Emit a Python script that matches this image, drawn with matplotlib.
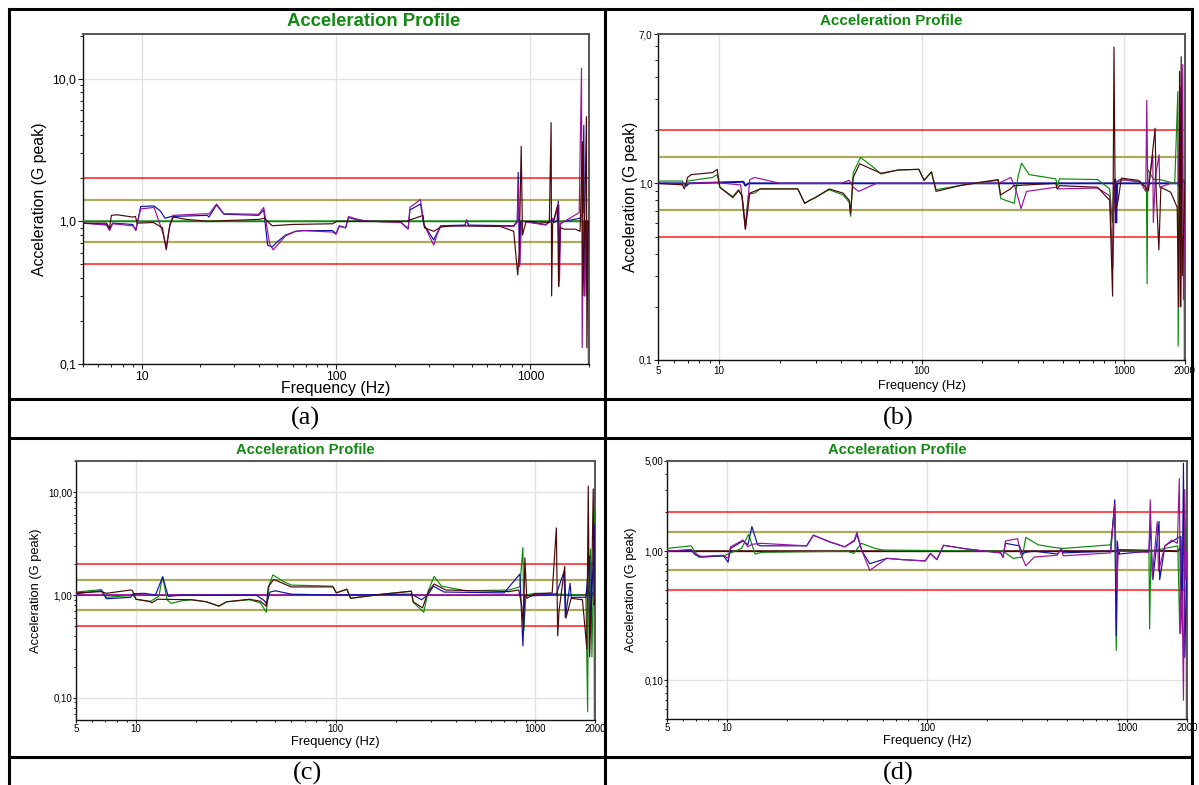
import matplotlib
matplotlib.use('Agg')
import numpy as np
import matplotlib.pyplot as plt
from matplotlib import font_manager
from matplotlib.ticker import LogLocator, NullFormatter

W, H = 1199, 785

# ---------------- data (frequency Hz, acceleration G peak) ----------------
FREQ_RANGE = (5, 2000)
LIMIT_RED = [2.0, 0.5]
LIMIT_OLIVE = [1.41, 0.71]

TITLE = "Acceleration Profile"
XLABEL = "Frequency (Hz)"
YLABEL = "Acceleration (G peak)"
CAPTIONS = ["(a)", "(b)", "(c)", "(d)"]

XT_A = [10, 100, 1000]
XTL_A = ["10", "100", "1000"]
XT_BCD = [5, 10, 100, 1000, 2000]
XTL_BCD = ["5", "10", "100", "1000", "2000"]

YLIM_A = (0.1, 20.5)
YT_A = [0.1, 1, 10]
YTL_A = ["0,1", "1,0", "10,0"]
YLIM_B = (0.1, 7.0)
YT_B = [0.1, 1, 7]
YTL_B = ["0,1", "1,0", "7,0"]
YLIM_C = (0.0607, 20.2)
YT_C = [0.1, 1, 10]
YTL_C = ["0,10", "1,00", "10,00"]
YLIM_D = (0.05, 5.0)
YT_D = [0.1, 1, 5]
YTL_D = ["0,10", "1,00", "5,00"]

# panel (a)
GREEN_A = [(5, 1.0), (860, 1.0), (870, 1.03), (880, 1.0), (1850, 1.0), (2000, 1.0)]
BLUE_A = [(5, 0.97), (6.6, 0.95), (6.85, 0.88), (7.1, 0.97), (9.0, 0.95), (9.35, 0.86), (9.9, 1.27),
          (11.6, 1.28), (12.5, 1.18), (13.2, 1.05), (14.2, 1.08), (21.8, 1.1), (22.2, 1.07), (24.3, 1.3),
          (26.5, 1.12), (40, 1.1), (42.5, 1.2), (44.5, 0.68), (47, 0.66), (50, 0.72), (55, 0.8), (62, 0.85),
          (68, 0.86), (96, 0.86), (100, 0.82), (104, 0.93), (112, 0.9), (116, 1.06), (130, 1.02), (145, 1.0),
          (215, 0.99), (235, 0.88), (240, 1.2), (272, 1.32), (283, 0.95), (318, 0.74), (345, 0.93),
          (460, 0.94), (470, 1.02), (480, 0.94), (820, 0.93), (855, 1.0), (865, 2.2), (880, 0.5),
          (890, 1.0), (930, 1.0), (1200, 0.95), (1300, 1.02), (1315, 0.98), (1370, 1.0), (1390, 1.38),
          (1400, 0.35), (1420, 0.96), (1500, 1.0), (1800, 1.05), (1860, 1.15), (1880, 4.7), (1900, 0.3),
          (1920, 1.0), (1950, 0.3), (1980, 1.0), (2000, 1.0)]
PURPLE_A = [(5, 0.97), (6.6, 0.94), (6.85, 0.86), (7.1, 0.96), (9.0, 0.93), (9.35, 0.88), (9.9, 1.22),
            (11.6, 1.25), (12.8, 0.85), (13.4, 0.66), (13.9, 0.9), (14.5, 1.1), (21.8, 1.13), (22.2, 1.12),
            (24.3, 1.32), (26.5, 1.13), (40, 1.12), (42.5, 1.25), (45.5, 0.7), (47.5, 0.63), (50, 0.68),
            (55, 0.79), (62, 0.85), (68, 0.86), (96, 0.84), (100, 0.81), (104, 0.92), (112, 0.9), (116, 1.08),
            (130, 1.03), (145, 1.0), (215, 0.98), (235, 0.89), (240, 1.25), (272, 1.42), (283, 0.95),
            (318, 0.68), (330, 0.8), (345, 0.92), (460, 0.93), (470, 1.02), (480, 0.93), (820, 0.92),
            (855, 0.98), (868, 1.8), (880, 0.48), (900, 1.0), (1200, 0.94), (1300, 1.05), (1315, 1.0),
            (1400, 1.3), (1410, 0.38), (1430, 0.97), (1500, 1.0), (1780, 1.15), (1830, 11.8), (1845, 0.13),
            (1870, 1.0), (1900, 0.3), (1950, 1.0), (2000, 1.0)]
MAROON_A = [(5, 0.97), (6.6, 0.97), (6.85, 0.9), (7.0, 1.1), (7.5, 1.11), (9.0, 1.07), (9.3, 1.08),
            (9.5, 0.97), (11.5, 0.98), (12.8, 0.9), (13.4, 0.63), (14.0, 0.95), (14.6, 1.07), (17, 1.03),
            (22, 1.0), (40, 1.03), (43, 1.05), (45, 0.98), (47, 0.93), (60, 0.95), (96, 0.96), (101, 1.0),
            (230, 1.0), (270, 1.08), (280, 1.1), (285, 0.9), (318, 0.85), (345, 0.91), (400, 0.93),
            (700, 0.92), (820, 0.85), (860, 0.42), (875, 0.6), (896, 3.35), (910, 0.8), (950, 1.0),
            (1250, 0.98), (1277, 4.9), (1285, 0.3), (1300, 0.95), (1380, 1.3), (1395, 0.35), (1420, 0.9),
            (1500, 0.88), (1700, 0.88), (1800, 0.85), (1850, 3.6), (1860, 0.3), (1900, 1.0), (1940, 5.4),
            (1950, 0.13), (1980, 1.0), (2000, 0.9)]

# panel (b)
GREEN_B = [(5, 1.03), (6.6, 1.03), (6.8, 0.97), (7.0, 1.03), (9.3, 1.08), (9.8, 1.12), (10.1, 0.95),
           (11.7, 0.84), (12.5, 0.92), (13.0, 0.85), (13.5, 0.58), (14.0, 0.87), (15, 0.88), (16, 0.93),
           (24.5, 0.93), (26.5, 0.77), (28, 0.8), (35, 0.92), (41, 0.86), (44, 0.78), (44.7, 0.65),
           (46, 1.15), (50, 1.4), (57, 1.25), (63, 1.13), (77, 1.19), (97, 1.2), (103, 1.04), (112, 1.16),
           (118, 0.92), (154, 0.97), (192, 1.01), (239, 1.04), (246, 0.82), (287, 0.77), (300, 1.1),
           (312, 1.3), (340, 1.12), (460, 1.06), (470, 0.97), (480, 1.06), (740, 1.05), (850, 0.93),
           (875, 0.6), (890, 1.0), (1000, 1.05), (1200, 1.02), (1290, 0.95), (1300, 0.27), (1310, 1.2),
           (1400, 1.05), (1500, 1.05), (1780, 1.0), (1843, 3.3), (1850, 0.12), (1880, 1.0), (2000, 1.05)]
PURPLE_B = [(5, 1.0), (6.7, 0.99), (7.0, 1.0), (9.5, 1.01), (10.5, 1.0), (12.8, 0.98), (13.5, 0.55),
            (14.2, 1.05), (15, 1.08), (20, 1.0), (40, 1.0), (44, 1.04), (46, 0.95), (49, 0.9), (60, 1.0),
            (240, 1.0), (276, 1.08), (290, 0.95), (310, 0.72), (330, 0.9), (460, 0.95), (470, 0.93),
            (740, 0.94), (850, 0.85), (880, 0.33), (900, 1.0), (950, 1.05), (1200, 1.02), (1280, 0.9),
            (1295, 2.95), (1310, 0.9), (1387, 1.45), (1395, 0.6), (1430, 1.1), (1490, 1.45), (1500, 0.95),
            (1700, 1.0), (1860, 1.0), (1890, 3.5), (1910, 0.2), (1950, 4.7), (1965, 0.22), (2000, 1.0)]
BLUE_B = [(5, 1.0), (6.7, 1.0), (6.9, 0.97), (7.1, 1.0), (13.2, 1.02), (13.5, 0.97), (14, 1.0),
          (900, 1.0), (905, 1.05), (915, 0.6), (925, 1.0), (1850, 1.0), (1880, 0.95), (1950, 1.05),
          (2000, 1.0)]
MAROON_B = [(5, 1.0), (6.6, 0.98), (6.75, 0.93), (7.0, 1.08), (7.3, 1.12), (9.3, 1.15), (9.8, 1.2),
            (10.1, 0.95), (11.7, 0.83), (12.5, 0.91), (13.0, 0.85), (13.5, 0.55), (14.2, 0.88), (16, 0.93),
            (24.5, 0.93), (26.5, 0.77), (28, 0.8), (30, 0.83), (35, 0.93), (41, 0.88), (44, 0.8),
            (44.6, 0.67), (46, 1.08), (49.5, 1.29), (63, 1.14), (77, 1.19), (97, 1.2), (103, 1.04),
            (112, 1.16), (118, 0.9), (154, 0.97), (192, 1.01), (239, 1.05), (246, 0.86), (275, 0.93),
            (285, 0.97), (460, 1.0), (468, 0.93), (480, 0.97), (740, 0.95), (850, 0.8), (878, 0.23),
            (892, 5.9), (905, 0.7), (935, 0.8), (970, 1.07), (1180, 1.04), (1320, 0.91), (1424, 2.05),
            (1440, 0.93), (1486, 0.42), (1520, 0.95), (1700, 0.89), (1830, 0.73), (1860, 0.2),
            (1880, 4.3), (1900, 0.2), (1915, 5.2), (1940, 0.3), (2000, 1.0)]

# panel (c)
GREEN_C = [(5, 1.07), (6.7, 1.13), (7.1, 0.95), (9.4, 0.99), (9.6, 1.02), (10, 0.91), (11.7, 0.86),
           (13, 0.97), (13.6, 1.52), (14.3, 0.9), (15, 0.83), (17, 0.88), (19, 0.9), (22.5, 0.86),
           (26, 0.78), (28.5, 0.86), (37, 0.9), (42, 0.84), (45, 0.68), (46.5, 1.25), (48.5, 1.57),
           (55, 1.35), (60, 1.25), (97, 1.22), (101, 1.05), (114, 1.14), (119, 0.93), (172, 1.02),
           (240, 1.09), (245, 0.85), (277, 0.68), (292, 1.1), (312, 1.52), (340, 1.22), (450, 1.1),
           (740, 1.12), (840, 1.2), (870, 2.9), (880, 0.45), (900, 1.0), (1000, 1.04), (1800, 1.0),
           (1837, 0.073), (1850, 1.0), (1900, 2.8), (1930, 0.25), (1990, 6.7), (2000, 1.0)]
BLUE_C = [(5, 1.03), (6.7, 1.1), (7.1, 0.92), (9.4, 0.95), (9.7, 1.03), (11, 1.04), (12.5, 1.0),
          (13.6, 1.5), (14.5, 0.97), (17, 1.0), (40, 1.0), (44, 0.88), (45, 0.82), (47, 1.07), (50, 1.1),
          (60, 1.02), (100, 1.0), (240, 1.02), (270, 0.9), (290, 1.0), (310, 1.22), (350, 1.07),
          (700, 1.05), (840, 1.6), (870, 0.32), (890, 1.0), (950, 0.98), (1280, 1.02), (1400, 1.7),
          (1420, 0.6), (1500, 1.3), (1520, 0.95), (1800, 0.95), (1880, 2.4), (1900, 0.5), (1990, 4.8),
          (2000, 1.0)]
PURPLE_C = [(5, 1.0), (1800, 1.0), (1850, 1.1), (1900, 0.95), (1950, 1.05), (2000, 1.0)]
MAROON_C = [(5, 1.05), (6.7, 1.08), (7.1, 1.04), (9.4, 1.12), (9.6, 1.1), (10, 0.91), (11.7, 0.87),
            (12, 0.84), (12.8, 0.91), (19, 0.9), (22.5, 0.86), (26, 0.78), (28.5, 0.86), (37, 0.91),
            (42, 0.87), (45, 0.78), (46, 1.2), (49, 1.42), (60, 1.2), (97, 1.2), (101, 1.05), (114, 1.14),
            (119, 0.93), (172, 1.02), (240, 1.09), (245, 0.86), (273, 0.75), (292, 1.08), (312, 1.28),
            (357, 1.12), (740, 1.08), (830, 1.12), (860, 0.77), (875, 0.47), (890, 2.3), (910, 0.93),
            (1000, 1.03), (1220, 1.05), (1280, 4.5), (1300, 0.4), (1320, 0.7), (1410, 1.9), (1430, 0.6),
            (1520, 0.93), (1730, 0.9), (1820, 0.3), (1850, 11.5), (1880, 0.25), (1920, 1.0), (1960, 10.8),
            (1980, 0.8), (2000, 0.9)]

# panel (d)
GREEN_D = [(5, 1.05), (6.6, 1.1), (7.2, 0.9), (9.6, 0.92), (10.1, 0.95), (11.8, 1.05), (12.8, 1.35),
           (13.8, 0.95), (15, 0.98), (40, 1.0), (43, 0.96), (47, 1.15), (55, 1.05), (60, 1.02), (240, 1.0),
           (270, 0.88), (300, 0.9), (312, 1.28), (360, 1.12), (430, 1.07), (480, 1.05), (830, 1.12),
           (870, 2.2), (885, 0.17), (900, 1.0), (1290, 1.0), (1300, 0.25), (1320, 1.0), (1800, 1.1),
           (1840, 0.23), (1870, 1.3), (1900, 0.5), (1930, 3.0), (1960, 0.6), (2000, 1.5)]
BLUE_D = [(5, 1.0), (6.6, 1.02), (6.9, 0.94), (7.4, 0.9), (9.6, 0.92), (10.1, 0.82), (10.4, 1.05),
          (12.0, 1.2), (12.7, 1.12), (13.3, 1.55), (14.2, 1.12), (14.8, 1.1), (25, 1.1), (27, 1.33),
          (32.6, 1.18), (38.8, 1.08), (43.3, 1.2), (44.6, 1.35), (47.3, 1.0), (51.7, 0.8), (63, 0.88),
          (75, 0.86), (98, 0.84), (104, 0.96), (112, 0.86), (121, 1.11), (158, 1.04), (234, 0.97),
          (240, 0.9), (247, 1.15), (290, 1.1), (300, 0.95), (312, 0.98), (344, 1.0), (450, 0.95),
          (470, 1.05), (480, 0.97), (830, 1.0), (870, 2.5), (885, 0.22), (895, 1.2), (910, 0.95),
          (1290, 1.0), (1310, 1.6), (1350, 0.6), (1450, 1.7), (1460, 0.6), (1550, 1.1), (1700, 1.2),
          (1850, 1.3), (1890, 0.33), (1920, 4.8), (1950, 0.15), (2000, 1.0)]
PURPLE_D = [(5, 1.0), (6.6, 1.03), (6.9, 0.96), (7.4, 0.91), (9.6, 0.93), (10.1, 0.88), (10.4, 1.08),
            (12.0, 1.22), (12.7, 1.08), (13.3, 1.13), (14.8, 1.15), (25, 1.1), (27, 1.33), (32.6, 1.18),
            (38.8, 1.08), (43.3, 1.22), (44.6, 1.4), (47.3, 1.0), (51.7, 0.71), (63, 0.88), (75, 0.86),
            (98, 0.84), (104, 0.96), (112, 0.86), (121, 1.11), (158, 1.04), (234, 0.97), (240, 0.89),
            (247, 1.2), (284, 1.25), (294, 0.96), (312, 0.77), (344, 0.9), (448, 0.93), (470, 1.05),
            (480, 0.92), (830, 0.97), (870, 2.34), (890, 0.5), (905, 1.0), (1290, 0.98), (1310, 2.5),
            (1340, 0.63), (1420, 1.69), (1440, 0.7), (1550, 1.1), (1680, 1.22), (1790, 1.15), (1830, 3.65),
            (1860, 0.23), (1890, 0.5), (1920, 0.07), (1950, 3.0), (1980, 0.6), (2000, 1.0)]
MAROON_D = [(5, 1.0), (900, 1.0), (910, 0.95), (920, 1.02), (1800, 1.0), (1850, 1.05), (1900, 0.95),
            (2000, 1.0)]

OLIVE_END = [(1950, 1.0), (1975, 0.8), (1995, 0.01)]

# ---------------- styling ----------------
C_GREEN, C_BLUE, C_PURPLE, C_MAROON = '#0b8a0b', '#1010a8', '#9a149a', '#4a0808'
C_RED, C_OLIVE, C_TITLE = '#ff1a1a', '#aaaa5a', '#118a11'

fams = {f.name for f in font_manager.fontManager.ttflist}
SANS = 'Liberation Sans' if 'Liberation Sans' in fams else 'DejaVu Sans'
SERIF = 'Liberation Serif' if 'Liberation Serif' in fams else 'DejaVu Serif'
HAS_NARROW = 'Liberation Sans Narrow' in fams
NARROW = 'Liberation Sans Narrow' if HAS_NARROW else SANS
NK = 1.0 if HAS_NARROW else 0.82

plt.rcParams['font.family'] = [SANS, 'DejaVu Sans']

fig = plt.figure(figsize=(W / 100, H / 100), dpi=100)


def px_axes(l, t, r, b):
    return fig.add_axes([l / W, 1 - b / H, (r - l) / W, (b - t) / H])


# the last-listed control trace of each panel (flat near 1.0) is drawn a little heavier
panels = [
    dict(box=(83, 34, 589, 364), ylim=YLIM_A, yt=YT_A, ytl=YTL_A, xt=XT_A, xtl=XTL_A,
         traces=[(BLUE_A, C_BLUE), (PURPLE_A, C_PURPLE), (MAROON_A, C_MAROON)],
         control=(GREEN_A, C_GREEN),
         fam=SANS, tfs=13.3, lfs=11.4, ylfs=11.4, kfs=8.7, klen=3.5, kpad=1.5,
         title_xy=(374, 21), xlab_y=389, ylab_x=40, cap_xy=(305, 418)),
    dict(box=(658, 34, 1185, 360), ylim=YLIM_B, yt=YT_B, ytl=YTL_B, xt=XT_BCD, xtl=XTL_BCD,
         traces=[(GREEN_B, C_GREEN), (PURPLE_B, C_PURPLE), (MAROON_B, C_MAROON)],
         control=(BLUE_B, C_BLUE),
         fam=NARROW, tfs=13.3 * NK, lfs=11.2 * NK, ylfs=11.2, kfs=8.7 * NK, klen=3.0, kpad=1.0,
         title_xy=(891, 21), xlab_y=386, ylab_x=630, cap_xy=(898, 418)),
    dict(box=(76, 461, 595, 720), ylim=YLIM_C, yt=YT_C, ytl=YTL_C, xt=XT_BCD, xtl=XTL_BCD,
         traces=[(GREEN_C, C_GREEN), (BLUE_C, C_BLUE), (MAROON_C, C_MAROON)],
         control=(PURPLE_C, C_PURPLE),
         fam=SANS, tfs=10.6, lfs=9.3, ylfs=9.3, kfs=7.0, klen=2.5, kpad=0.3,
         title_xy=(305, 450), xlab_y=742, ylab_x=36, cap_xy=(307, 773)),
    dict(box=(667, 461, 1187, 719), ylim=YLIM_D, yt=YT_D, ytl=YTL_D, xt=XT_BCD, xtl=XTL_BCD,
         traces=[(GREEN_D, C_GREEN), (BLUE_D, C_BLUE), (PURPLE_D, C_PURPLE)],
         control=(MAROON_D, C_MAROON),
         fam=SANS, tfs=10.6, lfs=9.3, ylfs=9.3, kfs=7.0, klen=2.5, kpad=0.3,
         title_xy=(897, 450), xlab_y=741, ylab_x=631, cap_xy=(898, 773)),
]

for p in panels:
    l, t, r, b = p['box']
    ax = px_axes(l, t, r, b)
    ax.set_xscale('log')
    ax.set_yscale('log')
    ax.set_xlim(*FREQ_RANGE)
    ax.set_ylim(*p['ylim'])

    for v in LIMIT_RED:
        ax.hlines(v, *FREQ_RANGE, colors=C_RED, lw=1.1, zorder=2)
    for v in LIMIT_OLIVE:
        ax.hlines(v, *FREQ_RANGE, colors=C_OLIVE, lw=1.6, zorder=2)
    of, ov = zip(*OLIVE_END)
    ax.plot(of, ov, color=C_OLIVE, lw=1.2, zorder=2)

    cdata, ccol = p['control']
    f, v = zip(*cdata)
    ax.plot(f, v, color=ccol, lw=1.4, zorder=3)
    for data, col in p['traces']:
        f, v = zip(*data)
        ax.plot(f, v, color=col, lw=0.85, zorder=4)

    ax.grid(True, which='major', color='#e2e2e2', lw=1.0, zorder=0)
    ax.set_axisbelow(True)

    ax.set_xticks(p['xt'], labels=p['xtl'], fontfamily=p['fam'], fontsize=p['kfs'])
    ax.set_yticks(p['yt'], labels=p['ytl'], fontfamily=p['fam'], fontsize=p['kfs'])
    ax.xaxis.set_minor_locator(LogLocator(base=10, subs=np.arange(2, 10)))
    ax.yaxis.set_minor_locator(LogLocator(base=10, subs=np.arange(2, 10)))
    ax.xaxis.set_minor_formatter(NullFormatter())
    ax.yaxis.set_minor_formatter(NullFormatter())
    ax.tick_params(which='major', direction='out', length=p['klen'], width=0.8, pad=p['kpad'],
                   color='#222222')
    ax.tick_params(which='minor', direction='out', length=p['klen'] * 0.65, width=0.7, color='#222222')

    for side in ['left', 'bottom']:
        ax.spines[side].set_color('#111111')
        ax.spines[side].set_linewidth(1.0)
    for side in ['top', 'right']:
        ax.spines[side].set_color('#555555')
        ax.spines[side].set_linewidth(1.4)

    ax.set_xlabel(XLABEL, fontfamily=p['fam'], fontsize=p['lfs'], va='center')
    ax.xaxis.set_label_coords(0.5, (b - p['xlab_y']) / (b - t))
    ax.set_ylabel(YLABEL, fontfamily=p['fam'], fontsize=p['ylfs'], va='center')
    ax.yaxis.set_label_coords((p['ylab_x'] - l) / (r - l), 0.5)

# overlay for titles, captions and table borders
ov_ax = fig.add_axes([0, 0, 1, 1], zorder=10)
ov_ax.set_xlim(0, W)
ov_ax.set_ylim(H, 0)
ov_ax.axis('off')
ov_ax.patch.set_alpha(0)

for p, cap in zip(panels, CAPTIONS):
    tx, ty = p['title_xy']
    ov_ax.text(tx, ty, TITLE, color=C_TITLE, fontweight='bold', fontsize=p['tfs'],
               fontfamily=p['fam'], ha='center', va='center')
    cx, cy = p['cap_xy']
    ov_ax.text(cx, cy, cap, fontfamily=SERIF, fontsize=19, ha='center', va='center', color='black')

BORDER_LW = 2.2
for y in (9, 399, 438, 757):
    ov_ax.plot([9, 1192], [y, y], color='black', lw=BORDER_LW, solid_capstyle='projecting')
for x in (9, 605, 1192):
    ov_ax.plot([x, x], [9, H + 5], color='black', lw=BORDER_LW, solid_capstyle='projecting')

fig.savefig('out.png', dpi=100)
